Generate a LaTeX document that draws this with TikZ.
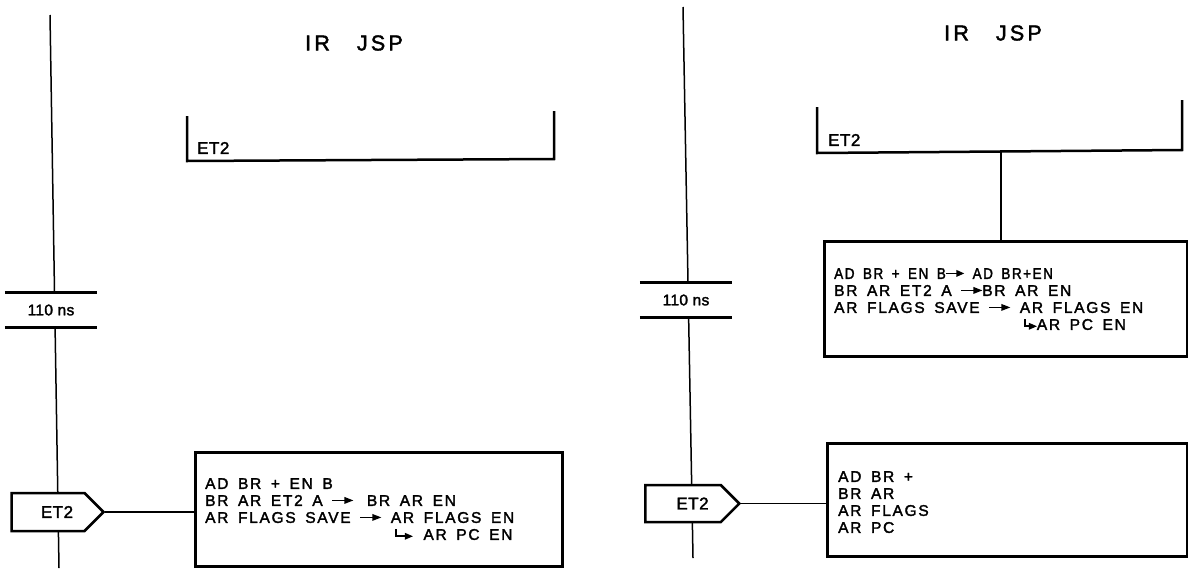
\documentclass[tikz,border=0pt]{standalone}
\usepackage{fontspec}
\usepackage{graphicx}
\setmainfont{Liberation Sans}[LetterSpace=11,WordSpace=1.6,FakeBold=2]
\newfontfamily\titlefont{Liberation Sans}[LetterSpace=15,FakeBold=2]
\newfontfamily\labelfont{Liberation Sans}[LetterSpace=3,FakeBold=2]
\newfontfamily\plainfont{Liberation Sans}[LetterSpace=2,FakeBold=2]
\usetikzlibrary{shapes.symbols}
% solid arrow and hooked arrow of the lettering
\newcommand{\rar}{\tikz[baseline=0pt,x=1pt,y=1pt]{\fill (0,4.7) rectangle (13,6.2); \fill (12,1.9) -- (21,5.45) -- (12,9) -- cycle;}}
\newcommand{\hook}[1]{\tikz[baseline=0pt,x=1pt,y=1pt]{\fill (0,2.8) rectangle (1.8,10.5); \fill (0,2.8) rectangle (#1-7,4.4); \fill (#1-8,0.1) -- (#1,3.6) -- (#1-8,7.1) -- cycle;}}
\tikzset{
  conn/.style={line width=1.5pt},
  heavy/.style={line width=2.5pt, line join=miter},
  bar/.style={line width=2.8pt},
  lett/.style={font=\fontsize{15.5}{17}\selectfont},
  lab/.style={font=\labelfont\fontsize{17}{18}\selectfont},
  title/.style={font=\titlefont\fontsize{21.5}{22}\selectfont},
  opbox/.style={draw, heavy, anchor=north west, inner sep=0pt},
  txt/.style={lett, align=left, anchor=north west, inner sep=0pt},
  sig/.style={signal, signal to=east, draw, heavy, fill=white, minimum width=92pt, minimum height=38pt, inner sep=0pt, lab},
  timebox/.style={fill=white, minimum width=92pt, minimum height=34pt, inner sep=0pt, font=\plainfont\fontsize{15.5}{17}\selectfont},
}
\begin{document}
\begin{tikzpicture}[x=1pt,y=-1pt]
\useasboundingbox (0,0) rectangle (1188,571);
% ---------- left panel ----------
\coordinate (lt) at (50,15);
\coordinate (lb) at (59,568);
\draw[conn] (lt) -- (lb);
\node[title] (irL) at (354,43) {IR\hspace{27pt}JSP};
\coordinate (bL1) at (187,116);
\coordinate (bL2) at (187,161);
\coordinate (bL3) at (554,159);
\coordinate (bL4) at (554,111);
\draw[heavy] (bL1) -- (bL2) -- (bL3) -- (bL4);
\node[lab, anchor=west, inner sep=0pt] (etbL) at (197,148) {ET2};
\node[timebox] (tL) at (51,310) {110 ns};
\draw[bar] (tL.north west) -- (tL.north east);
\draw[bar] (tL.south west) -- (tL.south east);
\node[sig] (sL) at (48,512) {\hspace{18pt}ET2};
\node[opbox, minimum width=367pt, minimum height=114pt] (boxL) at (194,451) {};
\draw[conn] (sL.east) -- (sL.east -| boxL.west);
\node[txt] (txL) at (205,478) {AD BR + EN B\\
BR AR ET2 A \rar\kern4pt\ BR AR EN\\
AR FLAGS SAVE \rar\ AR FLAGS EN\\
\hphantom{AR FLAGS SAVE \rar\ }\kern4pt\hook{18}\kern1pt\ AR PC EN};
% ---------- right panel ----------
\coordinate (rt) at (683,7);
\coordinate (rb) at (693,558);
\draw[conn] (rt) -- (rb);
\node[title] (irR) at (993,33) {IR\hspace{27pt}JSP};
\coordinate (bR1) at (817,107);
\coordinate (bR2) at (817,153);
\coordinate (bR3) at (1182,150);
\coordinate (bR4) at (1182,100);
\draw[heavy] (bR1) -- (bR2) -- (bR3) -- (bR4);
\node[lab, anchor=west, inner sep=0pt] (etbR) at (828,140) {ET2};
\coordinate (stem) at (1001,151);
\node[opbox, minimum width=363pt, minimum height=115pt] (boxR1) at (823,240) {};
\draw[conn] (stem) -- (stem |- boxR1.north);
\node[txt] (txR1) at (834,268) {\scalebox{0.875}[1]{AD BR + EN B\rar\ AD BR+EN}\\
BR AR ET2 A \rar BR AR EN\\
AR FLAGS SAVE \rar\ AR FLAGS EN\\
\hphantom{AR FLAGS SAVE \rar\ }\kern4pt\hook{13}AR PC EN};
\node[timebox] (tR) at (686,300) {110 ns};
\draw[bar] (tR.north west) -- (tR.north east);
\draw[bar] (tR.south west) -- (tR.south east);
\node[sig, minimum width=94pt, minimum height=37pt] (sR) at (683,503.5) {\hspace{19pt}ET2};
\node[opbox, minimum width=360pt, minimum height=113pt] (boxR2) at (826,442) {};
\draw[conn] (sR.east) -- (sR.east -| boxR2.west);
\node[txt] (txR2) at (838,471) {AD BR +\\
BR AR\\
AR FLAGS\\
AR PC};
\end{tikzpicture}
\end{document}
